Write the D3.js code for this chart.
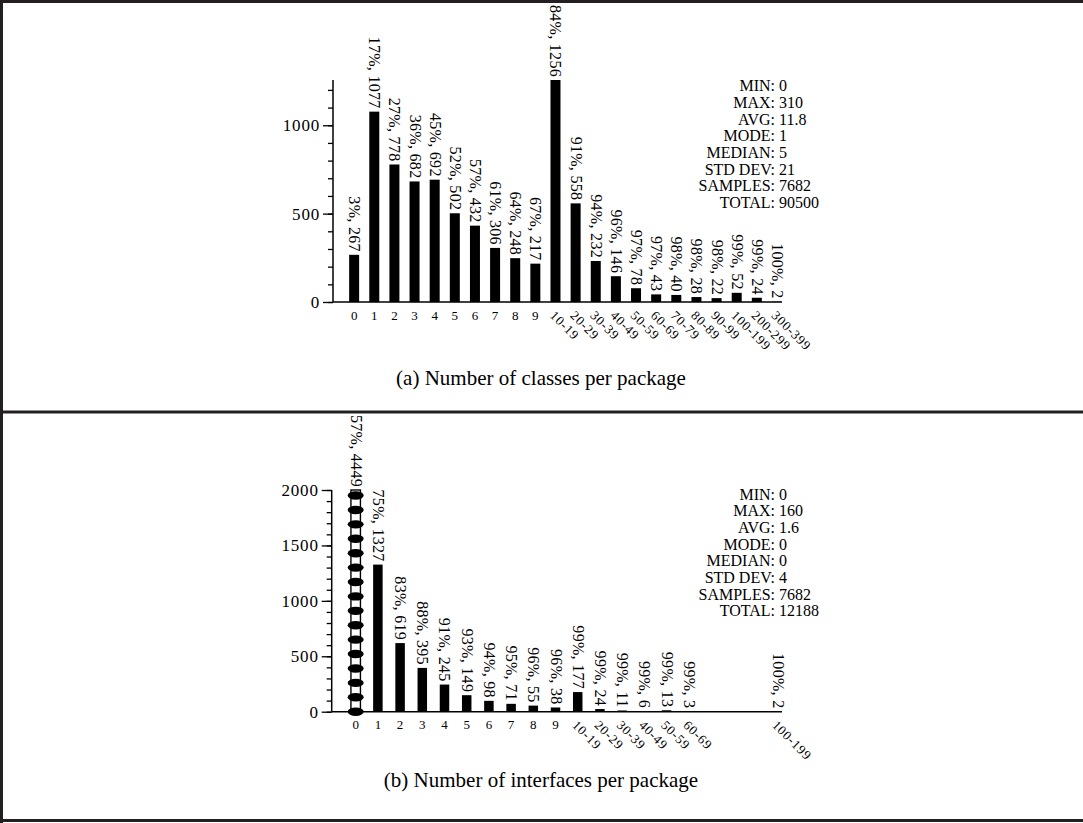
<!DOCTYPE html>
<html>
<head>
<meta charset="utf-8">
<script src="https://cdn.jsdelivr.net/npm/d3@7"></script>
<style>
  body { margin: 0; background: #fff; }
  svg { display: block; font-family: "Liberation Serif", "Times New Roman", serif; }
</style>
</head>
<body>
<svg id="chart" width="1083" height="823"></svg>
<script>
// panel (a): classes per package
const classCats = ['0', '1', '2', '3', '4', '5', '6', '7', '8', '9',
  '10-19', '20-29', '30-39', '40-49', '50-59', '60-69', '70-79', '80-89', '90-99',
  '100-199', '200-299', '300-399']
const classCounts = [267, 1077, 778, 682, 692, 502, 432, 306, 248, 217,
  1256, 558, 232, 146, 78, 43, 40, 28, 22, 52, 24, 2]
const classPcts = [3, 17, 27, 36, 45, 52, 57, 61, 64, 67,
  84, 91, 94, 96, 97, 97, 98, 98, 98, 99, 99, 100]
const classTicks = [0, 500, 1000]
const classStats = [['MIN:', '0'], ['MAX:', '310'], ['AVG:', '11.8'], ['MODE:', '1'],
  ['MEDIAN:', '5'], ['STD DEV:', '21'], ['SAMPLES:', '7682'], ['TOTAL:', '90500']]

// panel (b): interfaces per package (70-99 are empty)
const ifaceCats = ['0', '1', '2', '3', '4', '5', '6', '7', '8', '9',
  '10-19', '20-29', '30-39', '40-49', '50-59', '60-69', '70-79', '80-89', '90-99', '100-199']
const ifaceCounts = [4449, 1327, 619, 395, 245, 149, 98, 71, 55, 38,
  177, 24, 11, 6, 13, 3, null, null, null, 2]
const ifacePcts = [57, 75, 83, 88, 91, 93, 94, 95, 96, 96,
  99, 99, 99, 99, 99, 99, null, null, null, 100]
const ifaceTicks = [0, 500, 1000, 1500, 2000]
const ifaceStats = [['MIN:', '0'], ['MAX:', '160'], ['AVG:', '1.6'], ['MODE:', '0'],
  ['MEDIAN:', '0'], ['STD DEV:', '4'], ['SAMPLES:', '7682'], ['TOTAL:', '12188']]

const FRAME = '#231f20'
const svg = d3.select('#chart')

let drawPanel = function (p) {
  const g = svg.append('g')
  const x = d3.scaleLinear().domain(p.xDomain).range([p.axisX, p.xEnd])
  const y = d3.scaleLinear().domain([0, p.yMax]).range([p.baseY, p.topY])

  // bars
  p.counts.forEach((c, i) => {
    if (c === null) return
    if (c > p.yMax) {
      // broken bar: outlined column with black beads
      g.append('rect')
        .attr('x', x(i) - p.barW / 2).attr('y', y(p.yMax))
        .attr('width', p.barW).attr('height', y(0) - y(p.yMax))
        .attr('fill', '#fff').attr('stroke', '#000').attr('stroke-width', 1.4)
      p.beads.forEach(v => {
        g.append('ellipse')
          .attr('cx', x(i)).attr('cy', y(v))
          .attr('rx', 8).attr('ry', 4.2).attr('fill', '#000')
      })
      return
    }
    g.append('rect')
      .attr('x', x(i) - p.barW / 2).attr('y', y(c))
      .attr('width', p.barW).attr('height', y(0) - y(c))
      .attr('fill', '#000')
  })

  // value labels
  p.counts.forEach((c, i) => {
    if (c === null) return
    g.append('text')
      .attr('transform', `translate(${x(i) + 0.5},${y(Math.min(c, p.yMax)) - 3}) rotate(90)`)
      .attr('text-anchor', 'end')
      .attr('dominant-baseline', 'central')
      .style('font-size', '16px')
      .style('letter-spacing', '0.3px')
      .text(`${p.pcts[i]}%, ${c}`)
  })

  // axes
  const minor = d3.range(0, p.yMax + 1, 100)
  g.append('g')
    .attr('transform', `translate(${p.axisX},0)`)
    .call(d3.axisLeft(y).tickValues(minor).tickSize(5).tickFormat(''))
    .call(a => a.select('.domain').remove())
    .selectAll('line').attr('stroke-width', 1.3)
  const ya = g.append('g')
    .attr('transform', `translate(${p.axisX},0)`)
    .call(d3.axisLeft(y).tickValues(p.ticks).tickSize(10).tickPadding(3).tickFormat(d3.format('d')))
    .attr('font-family', null)
    .attr('font-size', null)
  ya.select('.domain').remove()
  ya.selectAll('line').attr('stroke-width', 1.3)
  ya.selectAll('text')
    .style('font-size', '17px')
    .style('letter-spacing', '0.8px')
  g.append('line')
    .attr('x1', p.axisX).attr('x2', p.axisX)
    .attr('y1', y(0)).attr('y2', y(p.yMax))
    .attr('stroke', '#000').attr('stroke-width', 1.5)
  g.append('line')
    .attr('x1', p.axisX).attr('x2', p.xEnd)
    .attr('y1', y(0)).attr('y2', y(0))
    .attr('stroke', '#000').attr('stroke-width', 1.5)

  // category labels
  p.cats.forEach((name, i) => {
    if (p.counts[i] === null) return
    if (i < 10) {
      g.append('text')
        .attr('x', x(i)).attr('y', y(0) + 13)
        .attr('text-anchor', 'middle')
        .attr('dominant-baseline', 'central')
        .style('font-size', '13px')
        .text(name)
    } else {
      g.append('text')
        .attr('transform', `translate(${x(i) - 3},${y(0) + 11}) rotate(45)`)
        .attr('dominant-baseline', 'central')
        .style('font-size', '13px')
        .style('letter-spacing', '0.9px')
        .text(name)
    }
  })

  // summary statistics, keys right-aligned on the colon
  p.stats.forEach((s, k) => {
    const yy = p.statsY + k * 16.7
    g.append('text')
      .attr('x', 775).attr('y', yy)
      .attr('text-anchor', 'end').attr('dominant-baseline', 'central')
      .style('font-size', '16px')
      .text(s[0])
    g.append('text')
      .attr('x', 779).attr('y', yy)
      .attr('dominant-baseline', 'central')
      .style('font-size', '16px')
      .text(s[1])
  })

  g.append('text')
    .attr('x', 541).attr('y', p.captionY)
    .attr('text-anchor', 'middle')
    .style('font-size', '21px')
    .text(p.caption)
}

drawPanel({
  cats: classCats, counts: classCounts, pcts: classPcts, ticks: classTicks, stats: classStats,
  xDomain: [-1.05, 21.25], axisX: 333, xEnd: 782,
  yMax: 1256, baseY: 302, topY: 80, barW: 10,
  statsY: 85.7, captionY: 385, caption: '(a) Number of classes per package'
})

drawPanel({
  cats: ifaceCats, counts: ifaceCounts, pcts: ifacePcts, ticks: ifaceTicks, stats: ifaceStats,
  xDomain: [-1.08, 19.2], axisX: 331.7, xEnd: 782,
  yMax: 2000, baseY: 711.7, topY: 490, barW: 9.5,
  beads: [0, 130, 260, 390, 520, 650, 780, 910, 1040, 1170, 1300, 1430, 1560, 1690, 1820, 1950],
  statsY: 494, captionY: 787, caption: '(b) Number of interfaces per package'
})

// frame
const frame = [[0, 1.5, 1083, 1.5], [1.5, 0, 1.5, 823], [0, 820.5, 1083, 820.5], [0, 412, 1083, 412]]
frame.forEach(f => {
  svg.append('line')
    .attr('x1', f[0]).attr('y1', f[1]).attr('x2', f[2]).attr('y2', f[3])
    .attr('stroke', FRAME).attr('stroke-width', 3)
})
</script>
</body>
</html>
